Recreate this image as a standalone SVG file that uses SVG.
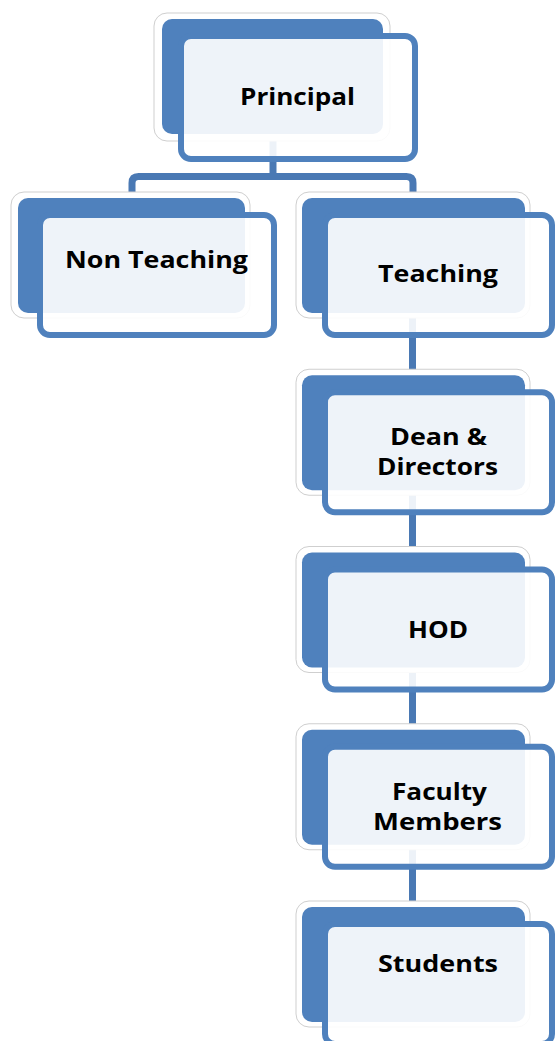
<svg xmlns="http://www.w3.org/2000/svg" width="555" height="1041" viewBox="0 0 555 1041">
<defs>
<style>
.outline{fill:#ffffff;stroke:#cfcfcf;stroke-width:1}
.back{fill:#4f81bd}
.front{fill:#ffffff;fill-opacity:0.9;stroke:#4f81bd;stroke-width:6}
.conn{fill:none;stroke:#4a79b4;stroke-width:7;stroke-linejoin:round}
.lbl{font-family:"Open Sans","Liberation Sans",sans-serif;font-weight:bold;font-size:23px;fill:#000000;text-anchor:middle}
</style>
</defs>
<rect width="555" height="1041" fill="#ffffff"/>
<g id="connectors">
<path class="conn" d="M273,140 V176.5"/>
<path class="conn" d="M132,198 V183 Q132,176.5 138.5,176.5 H406.5 Q413,176.5 413,183 V198"/>
<path class="conn" d="M412.5,313 V910"/>
</g>
<g id="principal">
<rect class="outline" x="154" y="13" width="236" height="128" rx="13"/>
<rect class="back" x="162" y="19" width="221" height="115" rx="10"/>
<rect class="front" x="181" y="36" width="234" height="123" rx="10"/>
<text class="lbl" x="297.5" y="105" textLength="115" lengthAdjust="spacingAndGlyphs">Principal</text>
</g>
<g id="non-teaching">
<rect class="outline" x="11" y="192" width="239" height="126" rx="13"/>
<rect class="back" x="18" y="198" width="227" height="115" rx="10"/>
<rect class="front" x="40" y="215" width="234" height="120" rx="10"/>
<text class="lbl" x="156.5" y="268" textLength="183" lengthAdjust="spacingAndGlyphs">Non Teaching</text>
</g>
<g id="teaching">
<rect class="outline" x="296" y="192" width="234" height="126" rx="13"/>
<rect class="back" x="302" y="198" width="223" height="115" rx="10"/>
<rect class="front" x="325" y="215" width="227" height="120" rx="10"/>
<text class="lbl" x="438" y="282" textLength="120" lengthAdjust="spacingAndGlyphs">Teaching</text>
</g>
<g id="dean-directors">
<rect class="outline" x="296" y="369.25" width="234" height="126" rx="13"/>
<rect class="back" x="302" y="375.25" width="223" height="115" rx="10"/>
<rect class="front" x="325" y="392.25" width="227" height="120" rx="10"/>
<text class="lbl" x="438.5" y="445" textLength="97" lengthAdjust="spacingAndGlyphs">Dean &amp;</text>
<text class="lbl" x="437.5" y="475" textLength="121" lengthAdjust="spacingAndGlyphs">Directors</text>
</g>
<g id="hod">
<rect class="outline" x="296" y="546.5" width="234" height="126" rx="13"/>
<rect class="back" x="302" y="552.5" width="223" height="115" rx="10"/>
<rect class="front" x="325" y="569.5" width="227" height="120" rx="10"/>
<text class="lbl" x="438" y="638" textLength="60" lengthAdjust="spacingAndGlyphs">HOD</text>
</g>
<g id="faculty-members">
<rect class="outline" x="296" y="723.75" width="234" height="126" rx="13"/>
<rect class="back" x="302" y="729.75" width="223" height="115" rx="10"/>
<rect class="front" x="325" y="746.75" width="227" height="120" rx="10"/>
<text class="lbl" x="439.5" y="800" textLength="95" lengthAdjust="spacingAndGlyphs">Faculty</text>
<text class="lbl" x="437.5" y="830" textLength="129" lengthAdjust="spacingAndGlyphs">Members</text>
</g>
<g id="students">
<rect class="outline" x="296" y="901" width="234" height="126" rx="13"/>
<rect class="back" x="302" y="907" width="223" height="115" rx="10"/>
<rect class="front" x="325" y="924" width="227" height="120" rx="10"/>
<text class="lbl" x="438" y="972" textLength="120" lengthAdjust="spacingAndGlyphs">Students</text>
</g>
</svg>
